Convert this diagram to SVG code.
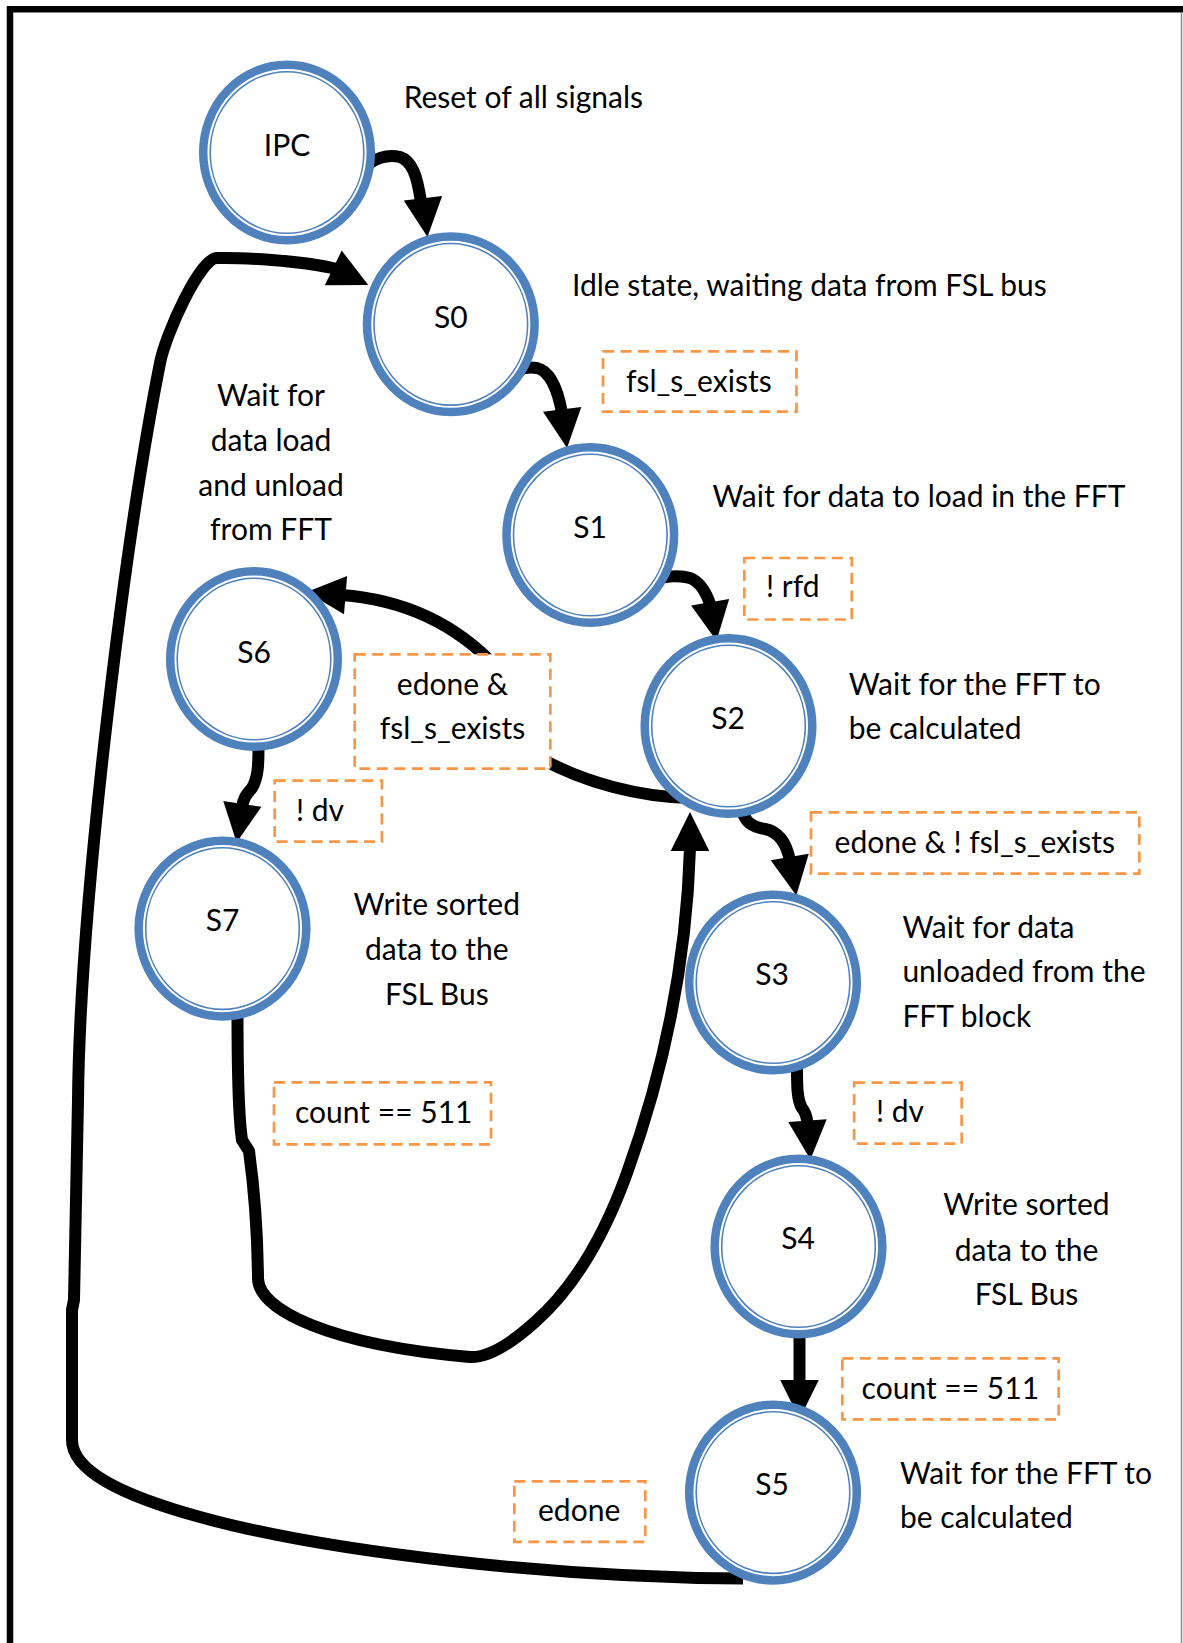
<svg xmlns="http://www.w3.org/2000/svg" xmlns:xlink="http://www.w3.org/1999/xlink" width="1183" height="1643" viewBox="0 0 1183 1643">
<style>
  text { font-family: "Lato", "Liberation Sans", sans-serif; font-size: 30px; fill: #000; }
  .lbl { text-anchor: middle; }
  .mid { text-anchor: middle; }
  .ring { fill: #fff; stroke: #4F81BD; stroke-width: 8.5; }
  .inner { fill: none; stroke: #4F81BD; stroke-width: 1.6; }
  .cond { fill: #fff; stroke: #F79646; stroke-width: 2.7; stroke-dasharray: 11 6.5; }
  .wire { fill: none; stroke: #000; stroke-width: 12; stroke-linecap: butt; stroke-linejoin: round; }
  .head { fill: #000; }
</style>
<defs>
  <path id="ah" d="M0,0 L-39,-19.3 L-39,19.3 Z"/>
</defs>
<rect width="1183" height="1643" fill="#fff"/>
<g id="frame">
  <path d="M10 1643 L10 9.3 L1183 9.3" fill="none" stroke="#000" stroke-width="6.5" stroke-linejoin="miter"/>
  <line x1="1181.5" y1="12" x2="1181.5" y2="1643" stroke="#888" stroke-width="1.5"/>
</g>

<g id="connectors">
  <path class="wire" d="M363 170 C372 158, 388 154, 400 157 C412 161, 417 175, 421 202"/>
  <use class="head" href="#ah" transform="translate(427.5,237) rotate(83.3)"/>

  <path class="wire" d="M505 380 C512 370, 525 366, 537 368 C550 371, 558 390, 562 413"/>
  <use class="head" href="#ah" transform="translate(567,448) rotate(82.9)"/>

  <path class="wire" d="M655 580 C665 576, 680 575, 690 578 C700 582, 706 592, 710 604"/>
  <use class="head" href="#ah" transform="translate(716.5,640.7) rotate(80.6)"/>

  <path class="wire" d="M742 810 C745 822, 752 827, 765 829 C780 832, 787 845, 790 861"/>
  <use class="head" href="#ah" transform="translate(796.3,895.4) rotate(80.3)"/>

  <path class="wire" d="M797 1068 C797 1085, 797 1100, 802 1108 C806 1113, 807 1118, 807.4 1123"/>
  <use class="head" href="#ah" transform="translate(810.4,1159.5) rotate(85.7)"/>

  <path class="wire" d="M799.5 1331 L799.5 1383"/>
  <use class="head" href="#ah" transform="translate(799.5,1419) rotate(90)"/>

  <path class="wire" d="M258.5 749 C258.5 765, 258 778, 252 788 C246 795, 243 799, 242.5 806"/>
  <use class="head" href="#ah" transform="translate(236.6,842.5) rotate(98.5)"/>

  <path class="wire" d="M690 798 C640 797, 585 783, 540 758 L497 668 C460 628, 410 600, 341 595"/>
  <use class="head" href="#ah" transform="translate(306.7,592) rotate(184.6)"/>

  <path class="wire" d="M237.5 1013 C237.5 1070, 239 1120, 242 1140 L249 1151 C253 1180, 257.5 1230, 258 1278 C258 1310, 330 1345, 470 1357 C490 1358, 515 1340, 535 1322 C578.5 1283.7, 607.3 1227.5, 627 1173 C664 1070.5, 686.7 960, 690 848"/>
  <use class="head" href="#ah" transform="translate(690,812) rotate(-90)"/>

  <path class="wire" d="M743 1578.5 C560 1578, 330 1553, 200 1517 C120 1495, 72 1470, 72 1440 L72 1310 L74 1300 L78 1100 C80 900, 125 540, 160 363 C165.8 333.6, 200 258, 217 258 C240 257.5, 300 260, 337 269"/>
  <use class="head" href="#ah" transform="translate(368.3,285) rotate(26)"/>
</g>

<g id="node-IPC">
  <ellipse class="ring" cx="287" cy="152.5" rx="83.8" ry="87.8"/>
  <ellipse class="inner" cx="287" cy="152.5" rx="76.8" ry="80.8"/>
  <text class="lbl" x="287" y="156">IPC</text>
</g>
<g id="node-S0">
  <ellipse class="ring" cx="450.8" cy="324.3" rx="83.8" ry="87.8"/>
  <ellipse class="inner" cx="450.8" cy="324.3" rx="76.8" ry="80.8"/>
  <text class="lbl" x="450.8" y="328">S0</text>
</g>
<g id="node-S1">
  <ellipse class="ring" cx="590.3" cy="535" rx="83.8" ry="87.8"/>
  <ellipse class="inner" cx="590.3" cy="535" rx="76.8" ry="80.8"/>
  <text class="lbl" x="590" y="538">S1</text>
</g>
<g id="node-S2">
  <ellipse class="ring" cx="728.5" cy="726" rx="83.8" ry="87.8"/>
  <ellipse class="inner" cx="728.5" cy="726" rx="76.8" ry="80.8"/>
  <text class="lbl" x="728" y="729">S2</text>
</g>
<g id="node-S3">
  <ellipse class="ring" cx="773" cy="982.5" rx="83.8" ry="87.8"/>
  <ellipse class="inner" cx="773" cy="982.5" rx="76.8" ry="80.8"/>
  <text class="lbl" x="772" y="985">S3</text>
</g>
<g id="node-S4">
  <ellipse class="ring" cx="798.5" cy="1246.5" rx="83.8" ry="87.8"/>
  <ellipse class="inner" cx="798.5" cy="1246.5" rx="76.8" ry="80.8"/>
  <text class="lbl" x="798" y="1249">S4</text>
</g>
<g id="node-S5">
  <ellipse class="ring" cx="773" cy="1492.6" rx="83.8" ry="87.8"/>
  <ellipse class="inner" cx="773" cy="1492.6" rx="76.8" ry="80.8"/>
  <text class="lbl" x="772" y="1495">S5</text>
</g>
<g id="node-S6">
  <ellipse class="ring" cx="254" cy="659" rx="83.8" ry="87.8"/>
  <ellipse class="inner" cx="254" cy="659" rx="76.8" ry="80.8"/>
  <text class="lbl" x="254" y="662.5">S6</text>
</g>
<g id="node-S7">
  <ellipse class="ring" cx="222.5" cy="928.6" rx="83.8" ry="87.8"/>
  <ellipse class="inner" cx="222.5" cy="928.6" rx="76.8" ry="80.8"/>
  <text class="lbl" x="222.5" y="931">S7</text>
</g>

<g id="conditions">
  <g id="cond-fsl"><rect class="cond" x="603" y="351.3" width="193.5" height="60.3"/><text x="626" y="392">fsl_s_exists</text></g>
  <g id="cond-rfd"><rect class="cond" x="744.3" y="558" width="107.5" height="61.5"/><text x="766" y="597">! rfd</text></g>
  <g id="cond-edone-fsl"><rect class="cond" x="354.7" y="654.3" width="195.6" height="114.4"/><text class="mid" x="452.5" y="695">edone &amp;</text><text class="mid" x="452.5" y="739">fsl_s_exists</text></g>
  <g id="cond-dv1"><rect class="cond" x="274.7" y="780.7" width="107.2" height="61"/><text x="296" y="821">! dv</text></g>
  <g id="cond-edone-nfsl"><rect class="cond" x="811" y="812.3" width="328.3" height="61.4"/><text x="834.6" y="853">edone &amp; ! fsl_s_exists</text></g>
  <g id="cond-dv2"><rect class="cond" x="854.1" y="1082.7" width="107.6" height="61"/><text x="876" y="1122">! dv</text></g>
  <g id="cond-count1"><rect class="cond" x="274" y="1082.3" width="217" height="62"/><text x="295" y="1123.3">count == 511</text></g>
  <g id="cond-count2"><rect class="cond" x="842.3" y="1358.3" width="216.4" height="61"/><text x="861.6" y="1398.5">count == 511</text></g>
  <g id="cond-edone"><rect class="cond" x="514.3" y="1481.3" width="131" height="60.5"/><text x="538" y="1520.7">edone</text></g>
</g>

<g id="descriptions">
  <text x="403.7" y="108">Reset of all signals</text>
  <text x="572" y="296">Idle state, waiting data from FSL bus</text>
  <text x="712.5" y="507">Wait for data to load in the FFT</text>
  <text x="848.7" y="695">Wait for the FFT to</text>
  <text x="848.7" y="738.5">be calculated</text>
  <text class="mid" x="271" y="406">Wait for</text>
  <text class="mid" x="271" y="451">data load</text>
  <text class="mid" x="271" y="496">and unload</text>
  <text class="mid" x="271" y="540">from FFT</text>
  <text class="mid" x="436.8" y="915">Write sorted</text>
  <text class="mid" x="436.8" y="960">data to the</text>
  <text class="mid" x="436.8" y="1005">FSL Bus</text>
  <text x="902.4" y="937.5">Wait for data</text>
  <text x="902.4" y="982">unloaded from the</text>
  <text x="902.4" y="1026.5">FFT block</text>
  <text class="mid" x="1026.5" y="1215">Write sorted</text>
  <text class="mid" x="1026.5" y="1261">data to the</text>
  <text class="mid" x="1026.5" y="1305">FSL Bus</text>
  <text x="900" y="1484">Wait for the FFT to</text>
  <text x="900" y="1528">be calculated</text>
</g>
</svg>
